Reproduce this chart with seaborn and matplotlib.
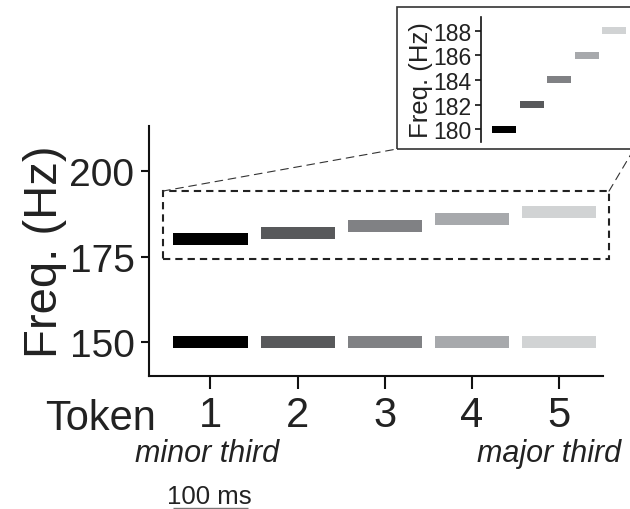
import numpy as np
import matplotlib
matplotlib.use("Agg")
import matplotlib.pyplot as plt
from matplotlib.patches import Rectangle, ConnectionPatch
from matplotlib import font_manager
import seaborn as sns

# ---- data ----
tokens = [1, 2, 3, 4, 5]
freq_variable = [180, 182, 184, 186, 188]
freq_fixed = [150, 150, 150, 150, 150]
bar_colors = ["#000000", "#58595b", "#808184", "#a7a9ac", "#d1d3d4"]
main_yticks = [150, 175, 200]
inset_yticks = [180, 182, 184, 186, 188]
tick_labels = ["1", "2", "3", "4", "5"]

sns.set_theme(style="ticks")
plt.rcParams["font.family"] = ["Liberation Sans", "DejaVu Sans"]

names = {f.name for f in font_manager.fontManager.ttflist}
has_narrow = "Liberation Sans Narrow" in names
it_family = ["Liberation Sans Narrow" if has_narrow else "Liberation Sans", "DejaVu Sans"]
it_size = 27 if has_narrow else 22

W, H = 630, 510
fig = plt.figure(figsize=(W / 100, H / 100), dpi=100)
fig.patch.set_facecolor("white")

def fx(px):
    return px / W

def fy(py):
    return 1 - py / H

# ---- inset frame (drawn behind everything) ----
fig.patches.append(Rectangle((fx(397), fy(150)), 0.5, (150 - 8) / H, transform=fig.transFigure,
                             fill=False, ec="#333333", lw=1.2, zorder=-1))

# ---- main axes ----
ax = fig.add_axes([fx(149), fy(377), fx(603 - 149), (377 - 127) / H])
ax.patch.set_alpha(0)
tok = np.array(tokens, dtype=float)
bw = 0.85
ax.barh(freq_variable, width=bw, left=tok - bw / 2, height=3.5, color=bar_colors, linewidth=0)
ax.barh(freq_fixed, width=bw, left=tok - bw / 2, height=3.5, color=bar_colors, linewidth=0)
ax.set_xlim(0.294, 5.506)
ax.set_ylim(140.06, 213.2)
ax.set_yticks(main_yticks)
ax.set_xticks(tokens)
ax.set_xticklabels(tick_labels)
sns.despine(ax=ax)
for s in ["left", "bottom"]:
    ax.spines[s].set_linewidth(1.5)
    ax.spines[s].set_color("#111111")
ax.tick_params(axis="y", length=5.5, width=1.5, labelsize=28, pad=5, colors="#111111", labelcolor="#222222")
ax.tick_params(axis="x", length=9, width=1.5, labelsize=30, pad=5, colors="#111111", labelcolor="#222222")
ax.set_ylabel("Freq. (Hz)", fontsize=34, labelpad=2, color="#222222")
ax.grid(False)

# dashed zoom rectangle
ax.add_patch(Rectangle((0.449, 174.4), 5.575 - 0.449, 194.15 - 174.4, fill=False,
                       ec="#222222", lw=1.5, ls=(0, (3.5, 2.4)), clip_on=False, zorder=5))

# scale bar (100 ms = bar width)
ax.plot([1 - bw / 2, 1 + bw / 2], [101.5, 101.5], color="#777777", lw=1.0, clip_on=False,
        solid_capstyle="butt")

# ---- inset axes ----
axi = fig.add_axes([fx(481), fy(143), 0.3, (143 - 18) / H])
axi.patch.set_alpha(0)
bwi = 0.87
axi.barh(freq_variable, width=bwi, left=tok - bwi / 2, height=0.57, color=bar_colors, linewidth=0)
axi.set_xlim(0.167, 0.167 + 0.3 * W / 27.6)
axi.set_ylim(178.94, 189.14)
axi.set_yticks(inset_yticks)
axi.set_xticks([])
for s in ["top", "right", "bottom"]:
    axi.spines[s].set_visible(False)
axi.spines["left"].set_linewidth(1.2)
axi.spines["left"].set_color("#111111")
axi.tick_params(axis="y", length=4, width=1.2, labelsize=16.5, pad=3, colors="#111111", labelcolor="#222222")
axi.set_ylabel("Freq. (Hz)", fontsize=18.5, labelpad=0, color="#222222")
axi.grid(False)

# connector lines
for xa, xb in [(0.449, fx(397)), (5.575, fx(634))]:
    con = ConnectionPatch(xyA=(xa, 194.15), coordsA=ax.transData,
                          xyB=(xb, fy(150)), coordsB=fig.transFigure,
                          color="#333333", lw=0.8, ls=(0, (7, 5)))
    fig.add_artist(con)

# ---- texts ----
fig.text(fx(45), fy(430), "Token", fontsize=30, ha="left", va="baseline", color="#222222")
fig.text(fx(135), fy(462), "minor third", fontsize=it_size, style="italic", family=it_family,
         ha="left", va="baseline", color="#222222")
fig.text(fx(621), fy(462), "major third", fontsize=it_size, style="italic", family=it_family,
         ha="right", va="baseline", color="#222222")
fig.text(fx(209), fy(504), "100 ms", fontsize=18.5, ha="center", va="baseline", color="#222222")

fig.savefig("out.png", dpi=100)
